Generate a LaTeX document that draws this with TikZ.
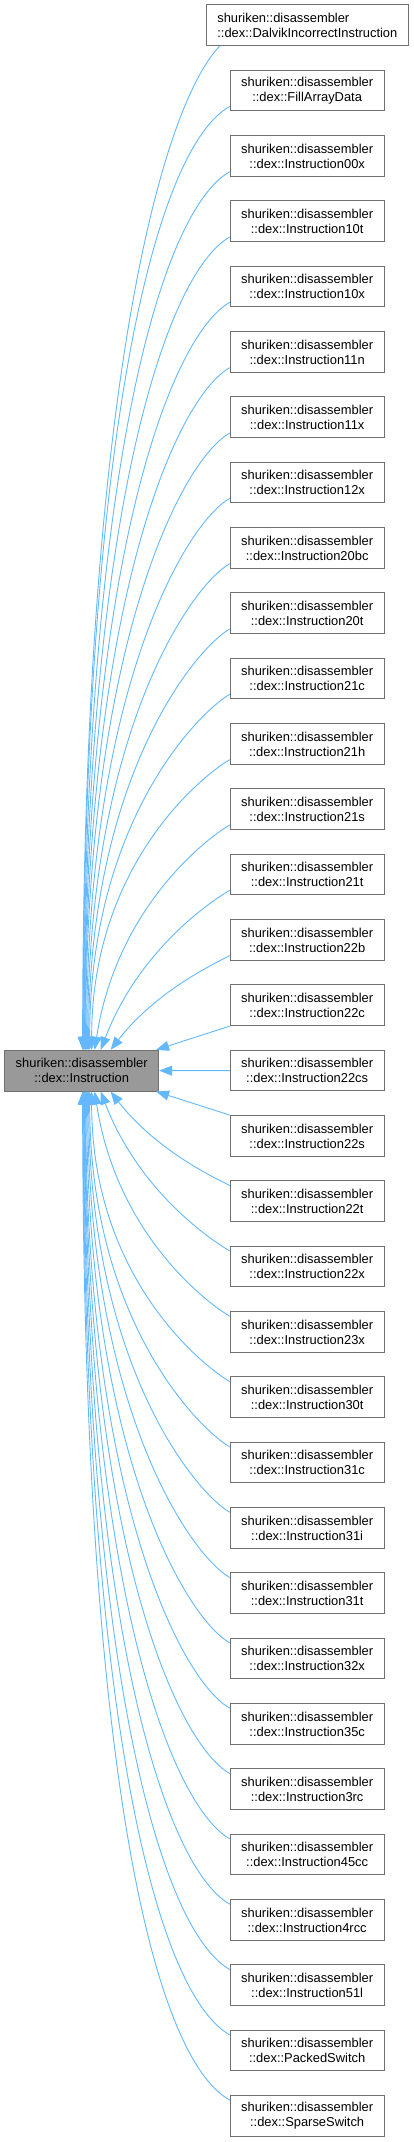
\documentclass[tikz,border=0pt]{standalone}
\usepackage{fontspec}
\setmainfont{Liberation Sans}
\usetikzlibrary{arrows.meta,calc}
\definecolor{edgeblue}{HTML}{63B8FF}
\definecolor{boxborder}{HTML}{707070}
\definecolor{basefill}{HTML}{999999}
\begin{document}
\begin{tikzpicture}[x=1pt,y=1pt,
  cls/.style={draw=boxborder, line width=1pt, fill=white, minimum width=153.7pt, minimum height=40.7pt, inner sep=0pt, align=center, font=\fontsize{12.9}{15}\selectfont},
  basecls/.style={cls, fill=basefill},
  edge/.style={draw=edgeblue, line width=0.9pt, -{Triangle[length=13pt,width=10pt]}}]
\useasboundingbox (0,0) rectangle (413,-2142);

\node[basecls] (base) at (81.7,-1070.7) {shuriken::disassembler\\::dex::Instruction};
\node[cls, minimum width=201.3pt, align=left] (c0) at (307.35,-25.3) {shuriken::disassembler\\::dex::DalvikIncorrectInstruction};
\foreach \k/\nm in {1/FillArrayData, 2/Instruction00x, 3/Instruction10t, 4/Instruction10x, 5/Instruction11n, 6/Instruction11x, 7/Instruction12x, 8/Instruction20bc, 9/Instruction20t, 10/Instruction21c, 11/Instruction21h, 12/Instruction21s, 13/Instruction21t, 14/Instruction22b, 15/Instruction22c, 16/Instruction22cs, 17/Instruction22s, 18/Instruction22t, 19/Instruction22x, 20/Instruction23x, 21/Instruction30t, 22/Instruction31c, 23/Instruction31i, 24/Instruction31t, 25/Instruction32x, 26/Instruction35c, 27/Instruction3rc, 28/Instruction45cc, 29/Instruction4rcc, 30/Instruction51l, 31/PackedSwitch, 32/SparseSwitch}
  \node[cls] (c\k) at (307.15, {-(25.3+65.33*\k)}) {shuriken::disassembler\\::dex::\nm};

% upper edges
\draw[edge] ($(c0.south west)+(13.3,0)$) .. controls +(-60,-64) and +(0,652) .. ($(base.north west)+(78.3,0)$);
\foreach \k/\ex/\ln in {1/83.5/0, 2/84/0, 3/84.5/0, 4/85/0, 5/85.5/0, 6/86/0, 7/87/0, 8/88/0, 9/89/0, 10/90/0, 11/92/0, 12/95/0.1, 13/101/0.25, 14/111/0.5} {
  \pgfmathsetmacro{\dy}{1009.3-65.33*\k}
  \draw[edge] ($(c\k.west)+(0,-15.7)$) .. controls +({-0.08*\dy},{-0.045*\dy}) and +({\ln*\dy},{0.65*\dy}) .. ($(base.north west)+(\ex-4.7,0)$);
}
\draw[edge] (c15.south west) -- ($(base.north east)+(-3,0)$);
\draw[edge] (c16) -- (base);
\draw[edge] (c17.north west) -- ($(base.south east)+(-3,0)$);
% lower edges
\foreach \k/\ex/\ln in {18/111/0.5, 19/101/0.25, 20/95/0.1, 21/92/0, 22/90/0, 23/89/0, 24/88/0, 25/87/0, 26/86/0, 27/85.5/0, 28/85/0, 29/84.5/0, 30/84/0, 31/83.5/0, 32/83/0} {
  \pgfmathsetmacro{\dy}{65.33*\k-1081.4}
  \draw[edge] ($(c\k.west)+(0,15.7)$) .. controls +({-0.08*\dy},{0.045*\dy}) and +({\ln*\dy},{-0.65*\dy}) .. ($(base.south west)+(\ex-4.7,0)$);
}
\end{tikzpicture}
\end{document}
